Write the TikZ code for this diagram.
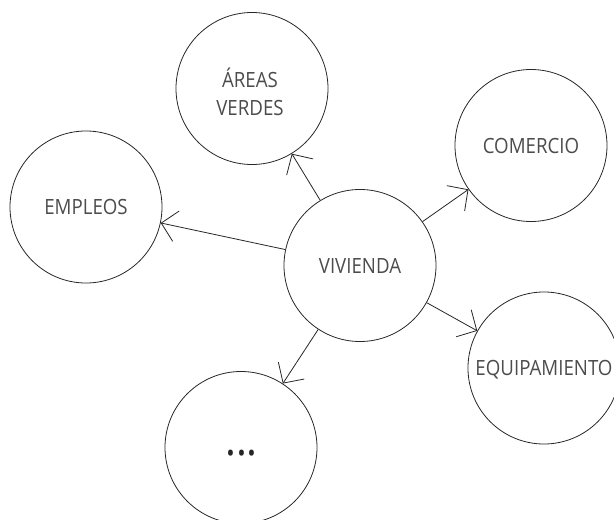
\documentclass[tikz,border=0pt]{standalone}
\usepackage{fontspec}
\setmainfont{Open Sans}[FakeStretch=0.89]
\usetikzlibrary{arrows.meta}
\tikzset{
  bubble/.style={circle, draw=black!85, line width=0.8pt, minimum size=152pt, inner sep=0pt,
    text=black!70, font=\fontsize{21pt}{22.4pt}\selectfont, text depth=0pt},
  txt/.style={text=black!70, font=\fontsize{21pt}{27.5pt}\selectfont, inner sep=0pt, align=center},
  link/.style={draw=black!85, line width=0.8pt, -{Straight Barb[length=15pt,width=31pt]}}
}
\begin{document}
\begin{tikzpicture}[x=1pt,y=-1pt]
\useasboundingbox (0,0) rectangle (614,520);
\node[bubble] (viv) at (360,265.5) {VIVIENDA};
\node[bubble] (areas) at (252,88.5) {};
\node[txt] (areastxt) at (250,92) {ÁREAS\\VERDES};
\node[bubble] (com) at (531,145.5) {COMERCIO};
\node[bubble] (emp) at (86,207) {EMPLEOS};
\node[bubble] (equ) at (544,368) {EQUIPAMIENTO};
\node[bubble] (etc) at (241,447.5) {};
\node[txt, font=\fontsize{46pt}{46pt}\selectfont, text=black!85] (dots) at (241.5,453) {...};
\draw[link] (viv) -- (areas);
\draw[link] (viv) -- (com);
\draw[link] (viv) -- (emp);
\draw[link] (viv) -- (equ);
\draw[link] (viv) -- (etc);
\end{tikzpicture}
\end{document}
